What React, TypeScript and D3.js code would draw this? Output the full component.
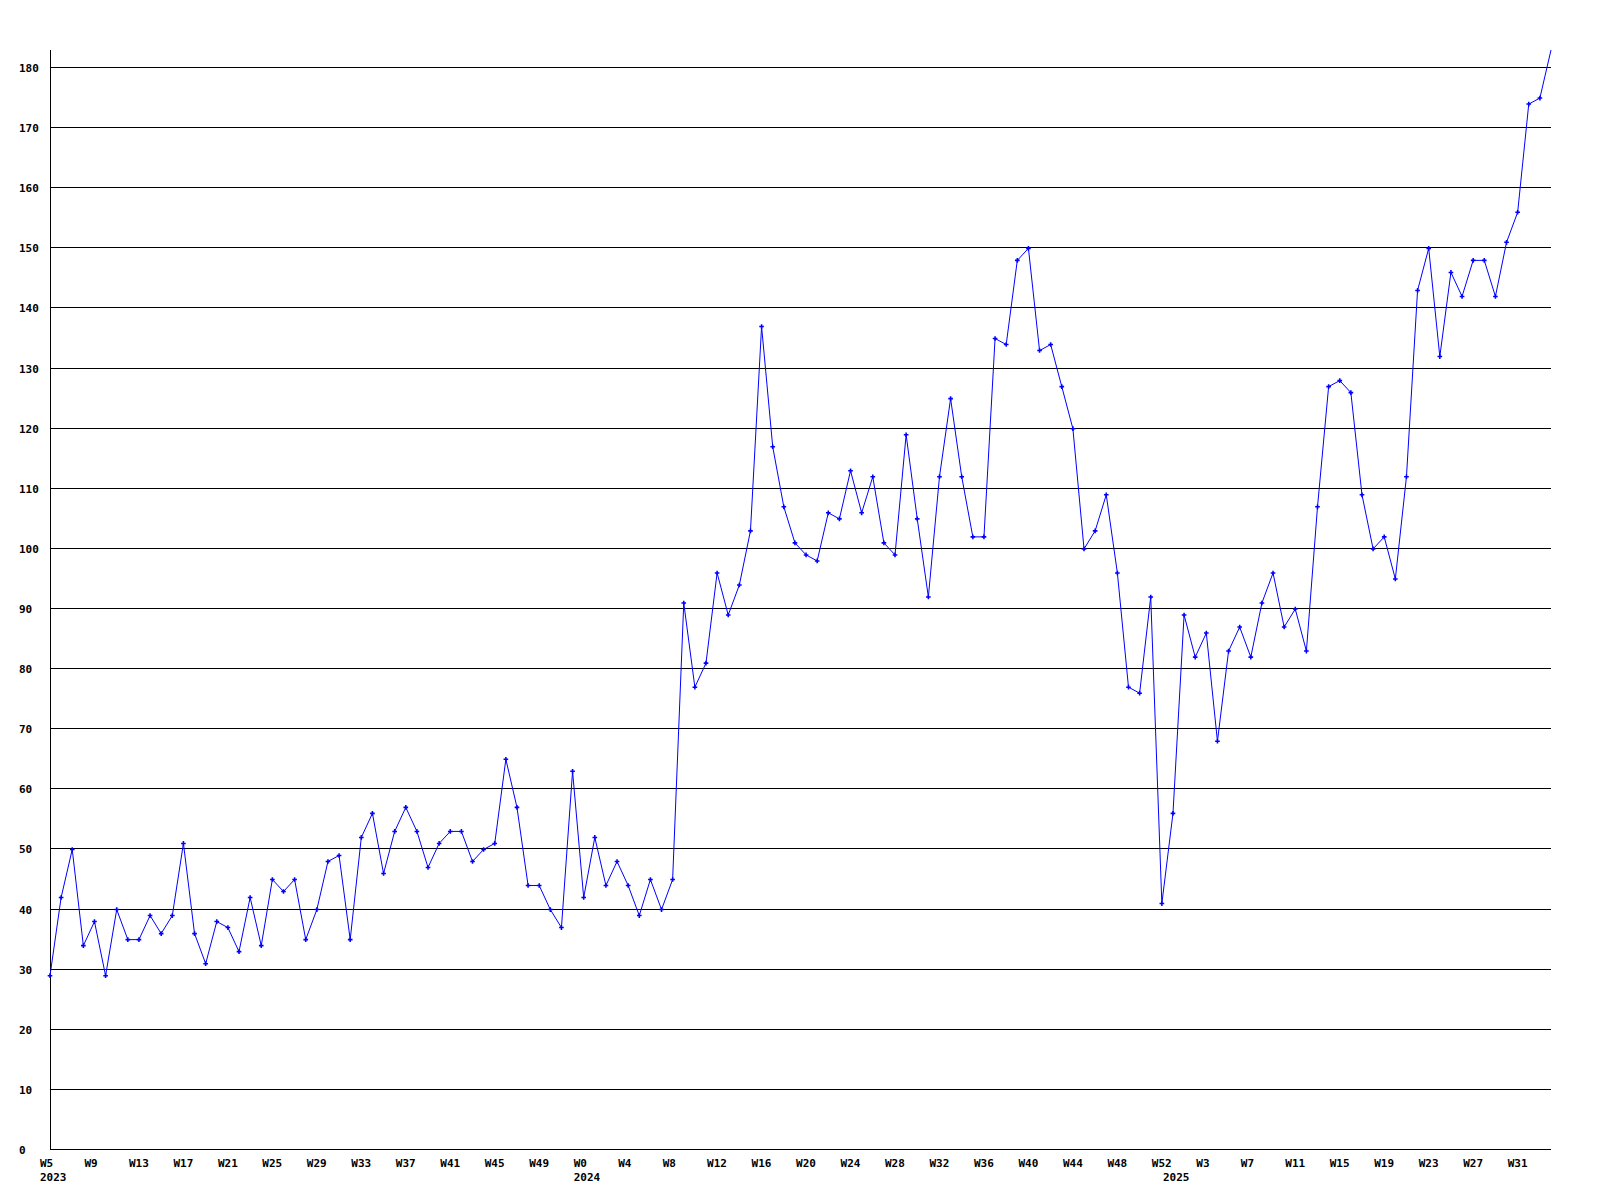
import {useEffect, useRef} from 'react';
import * as d3 from 'd3';

// weekly counts, 2023 W5 .. 2025 W34
const values2023 = [
  29, 42, 50, 34, 38, 29, 40, 35, 35, 39, 36, 39, 51, 36, 31, 38, 37, 33, 42, 34, 45, 43, 45, 35,
  40, 48, 49, 35, 52, 56, 46, 53, 57, 53, 47, 51, 53, 53, 48, 50, 51, 65, 57, 44, 44, 40, 37, 63,
];
const values2024 = [
  42, 52, 44, 48, 44, 39, 45, 40, 45, 91, 77, 81, 96, 89, 94, 103, 137, 117, 107, 101, 99, 98, 106,
  105, 113, 106, 112, 101, 99, 119, 105, 92, 112, 125, 112, 102, 102, 135, 134, 148, 150, 133, 134,
  127, 120, 100, 103, 109, 96, 77, 76, 92, 41,
];
const values2025 = [
  56, 89, 82, 86, 68, 83, 87, 82, 91, 96, 87, 90, 83, 107, 127, 128, 126, 109, 100, 102, 95, 112,
  143, 150, 132, 146, 142, 148, 148, 142, 151, 156, 174, 175, 183,
];

const years = [2023, 2024, 2025];

const tickLabels = [
  'W5', 'W9', 'W13', 'W17', 'W21', 'W25', 'W29', 'W33', 'W37', 'W41', 'W45', 'W49',
  'W0', 'W4', 'W8', 'W12', 'W16', 'W20', 'W24', 'W28', 'W32', 'W36', 'W40', 'W44', 'W48', 'W52',
  'W3', 'W7', 'W11', 'W15', 'W19', 'W23', 'W27', 'W31',
];
const yTicks = [0, 10, 20, 30, 40, 50, 60, 70, 80, 90, 100, 110, 120, 130, 140, 150, 160, 170, 180];

const W = 1600;
const H = 1200;
const FONT = '"DejaVu Sans Mono", monospace';

export default function App() {
  const svgRef = useRef<SVGSVGElement>(null);

  useEffect(() => {
    if (!svgRef.current) return;
    const svg = d3.select(svgRef.current);
    svg.selectAll('*').remove();

    const series = [values2023, values2024, values2025];
    const points: {i: number; v: number}[] = [];
    const yearStart: {year: number; i: number}[] = [];
    series.forEach((vals, k) => {
      yearStart.push({year: years[k], i: points.length});
      vals.forEach((v) => points.push({i: points.length, v}));
    });

    const yMax = d3.max(points, (d) => d.v) as number;
    const x = d3.scaleLinear().domain([0, points.length - 1]).range([50, 1551]);
    const y = d3.scaleLinear().domain([0, yMax]).range([1150, 50]);

    svg.append('rect').attr('width', W).attr('height', H).attr('fill', '#ffffff');

    // grid
    svg
      .append('g')
      .selectAll('line')
      .data(yTicks)
      .join('line')
      .attr('x1', 50)
      .attr('x2', 1551)
      .attr('y1', (d) => Math.round(y(d)) - 0.5)
      .attr('y2', (d) => Math.round(y(d)) - 0.5)
      .attr('stroke', '#000')
      .attr('stroke-width', 1);

    svg
      .append('line')
      .attr('x1', 50.5)
      .attr('x2', 50.5)
      .attr('y1', 50)
      .attr('y2', Math.round(y(0)))
      .attr('stroke', '#000');

    svg
      .append('g')
      .selectAll('text')
      .data(yTicks)
      .join('text')
      .attr('x', 19)
      .attr('y', (d) => Math.round(y(d)) + 3.5)
      .attr('font-family', FONT)
      .attr('font-weight', 'bold')
      .attr('font-size', '11px')
      .attr('fill', '#000')
      .text((d) => d);

    // x labels every 4 weeks
    svg
      .append('g')
      .selectAll('text')
      .data(tickLabels)
      .join('text')
      .attr('x', (d, k) => x(k * 4) - 10)
      .attr('y', 1167)
      .attr('font-family', FONT)
      .attr('font-weight', 'bold')
      .attr('font-size', '11px')
      .attr('fill', '#000')
      .text((d) => d);

    svg
      .append('g')
      .selectAll('text')
      .data(yearStart)
      .join('text')
      .attr('x', (d) => x(d.i) - 10)
      .attr('y', 1181)
      .attr('font-family', FONT)
      .attr('font-weight', 'bold')
      .attr('font-size', '11px')
      .attr('fill', '#000')
      .text((d) => d.year);

    const line = d3
      .line<{i: number; v: number}>()
      .x((d) => x(d.i))
      .y((d) => y(d.v));

    svg
      .append('path')
      .datum(points)
      .attr('d', line)
      .attr('fill', 'none')
      .attr('stroke', '#0000ff')
      .attr('stroke-width', 1);

    // markers; the one sitting on the top edge is cut off in the original
    svg
      .append('g')
      .selectAll('path')
      .data(points.filter((d) => d.v < yMax))
      .join('path')
      .attr('transform', (d) => `translate(${x(d.i)},${y(d.v)})`)
      .attr('d', d3.symbol(d3.symbolCross, 12)())
      .attr('fill', '#0000ff');
  }, []);

  return (
    <svg
      ref={svgRef}
      width={W}
      height={H}
      style={{position: 'absolute', left: 0, top: 0, display: 'block'}}
    />
  );
}
